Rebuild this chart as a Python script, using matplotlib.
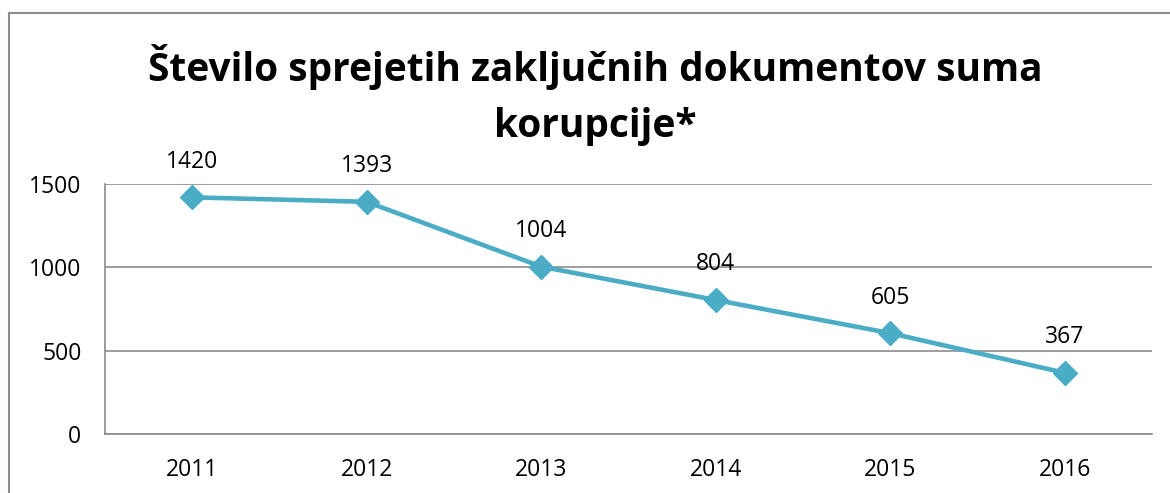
import numpy as np
import matplotlib
matplotlib.use('Agg')
import matplotlib.pyplot as plt

years = ['2011', '2012', '2013', '2014', '2015', '2016']
values = [1420, 1393, 1004, 804, 605, 367]
yticks = [0, 500, 1000, 1500]
title = 'Število sprejetih zaključnih dokumentov suma\nkorupcije*'

plt.rcParams['font.family'] = ['Open Sans', 'DejaVu Sans']

fig = plt.figure(figsize=(11.7, 4.93), dpi=100)
ax = fig.add_axes([105/1170, 1-434/493, (1152-105)/1170, (434-184)/493])

x = np.arange(len(years))
ax.plot(x, values, color='#4BACC6', lw=3.3, marker='D', markersize=12)
for xi, v in zip(x, values):
    ax.annotate(str(v), (xi, v), xytext=(0, 17), textcoords='offset points',
                ha='center', va='bottom', fontsize=16.5)

ax.set_xlim(-0.5, 5.5)
ax.set_ylim(0, 1500)
ax.set_xticks(x)
ax.set_xticklabels(years)
ax.set_yticks(yticks)
ax.tick_params(length=0, labelsize=16.5)
ax.tick_params(axis='x', pad=17)
ax.tick_params(axis='y', pad=17)
ax.grid(axis='y', color='#8c8c8c', lw=1.2)
ax.set_axisbelow(True)
for s in ['top', 'right']:
    ax.spines[s].set_visible(False)
for s in ['left', 'bottom']:
    ax.spines[s].set_color('#8c8c8c')
    ax.spines[s].set_linewidth(1.2)

fig.text(595/1170, 1-95/493, title, ha='center', va='center', fontsize=28,
         fontweight='bold', linespacing=1.55)

# frame round the chart
fig.add_artist(plt.Line2D([9/1170, 9/1170], [0, 1-13/493], color='#8c8c8c', lw=1.5))
fig.add_artist(plt.Line2D([9/1170, 1], [1-13/493, 1-13/493], color='#8c8c8c', lw=1.5))

fig.savefig('out.png', dpi=100)
